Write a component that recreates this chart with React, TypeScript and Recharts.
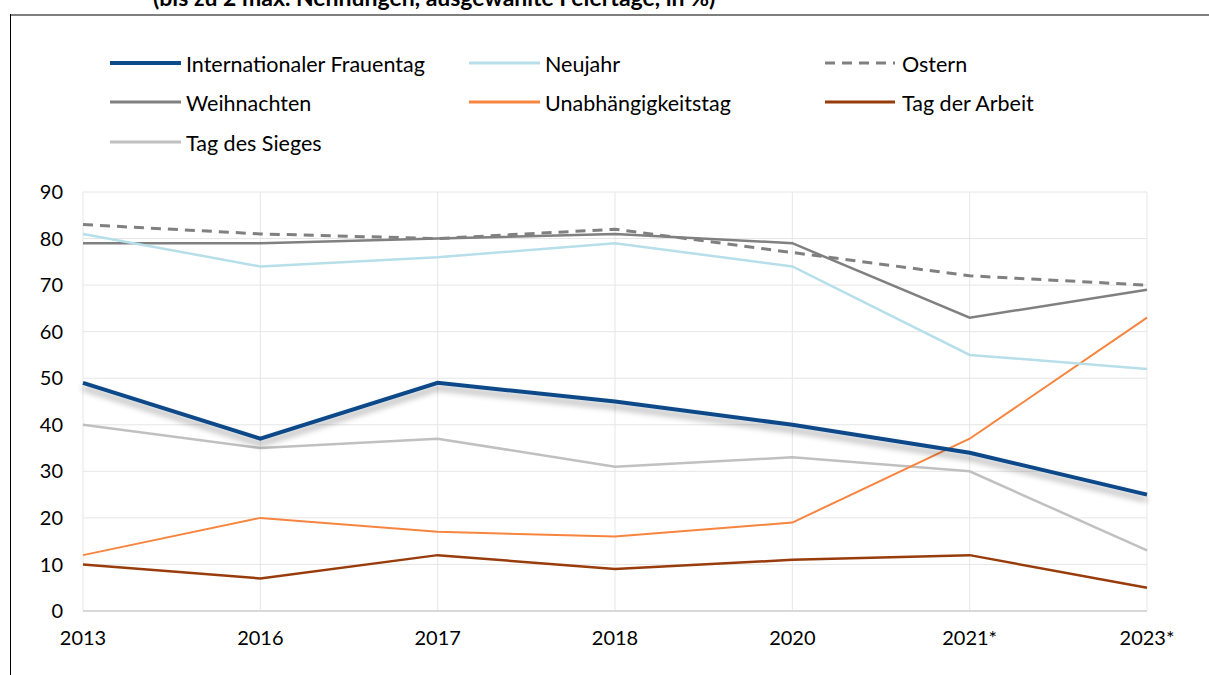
import React from "react";
import { LineChart, Line, XAxis, YAxis, CartesianGrid } from "recharts";

const categories = ["2013", "2016", "2017", "2018", "2020", "2021*", "2023*"];
const frauentag = [49, 37, 49, 45, 40, 34, 25];
const neujahr = [81, 74, 76, 79, 74, 55, 52];
const ostern = [83, 81, 80, 82, 77, 72, 70];
const weihnachten = [79, 79, 80, 81, 79, 63, 69];
const unabhaengigkeitstag = [12, 20, 17, 16, 19, 37, 63];
const tagDerArbeit = [10, 7, 12, 9, 11, 12, 5];
const tagDesSieges = [40, 35, 37, 31, 33, 30, 13];
const yTicks = [0, 10, 20, 30, 40, 50, 60, 70, 80, 90];

const data = categories.map((c, i) => ({
  year: c,
  frauentag: frauentag[i],
  neujahr: neujahr[i],
  ostern: ostern[i],
  weihnachten: weihnachten[i],
  unabh: unabhaengigkeitstag[i],
  arbeit: tagDerArbeit[i],
  sieges: tagDesSieges[i],
}));

const series = [
  { key: "frauentag", name: "Internationaler Frauentag", color: "#0c4a89", width: 4, dash: undefined as string | undefined, shadow: true },
  { key: "neujahr", name: "Neujahr", color: "#b7dfea", width: 2.5, dash: undefined, shadow: false },
  { key: "ostern", name: "Ostern", color: "#808080", width: 3, dash: "10 7", shadow: false },
  { key: "weihnachten", name: "Weihnachten", color: "#808080", width: 2.5, dash: undefined, shadow: false },
  { key: "unabh", name: "Unabhängigkeitstag", color: "#f7853f", width: 2, dash: undefined, shadow: false },
  { key: "arbeit", name: "Tag der Arbeit", color: "#993c0c", width: 2.5, dash: undefined, shadow: false },
  { key: "sieges", name: "Tag des Sieges", color: "#c0c0c0", width: 2.5, dash: undefined, shadow: false },
];

const legendCols = [110, 469, 825];
const legendLens = [71, 71, 70];
const legendGaps = [5, 5, 7];
const legendRows = [63, 102, 142];

const LegendBlock = () => (
  <svg width={1209} height={175} style={{ position: "absolute", left: 0, top: 0 }}>
    {series.map((s, i) => {
      const col = i % 3;
      const row = Math.floor(i / 3);
      const x = legendCols[col];
      const y = legendRows[row];
      const len = legendLens[col];
      return (
        <g key={s.key}>
          <line x1={x} x2={x + len} y1={y} y2={y} stroke={s.color} strokeWidth={col === 0 && row === 0 ? 4 : 3} strokeDasharray={s.dash ? "10 7" : undefined} />
          <text x={x + len + legendGaps[col]} y={y + 1} dominantBaseline="central" fontSize={21.5} fill="#000" fontFamily="Lato">
            {s.name}
          </text>
        </g>
      );
    })}
  </svg>
);

export default function App() {
  return (
    <div style={{ position: "absolute", left: 0, top: 0, width: 1209, height: 675, background: "#fff", overflow: "hidden", fontFamily: "Lato" }}>
      <div style={{ position: "absolute", left: 153, top: -17, fontSize: 23, fontWeight: 700, whiteSpace: "nowrap", color: "#000" }}>
        (bis zu 2 max. Nennungen, ausgewählte Feiertage, in %)
      </div>
      <div style={{ position: "absolute", left: 10, top: 14, width: 1199, height: 2, background: "#7f7f7f" }} />
      <div style={{ position: "absolute", left: 10, top: 14, width: 1, height: 661, background: "#000" }} />
      <div style={{ position: "absolute", left: 0, top: 0 }}>
        <LineChart width={1209} height={675} data={data} margin={{ top: 192, right: 62, bottom: 34, left: 13 }}>
          <defs>
            <filter id="lineShadow" x="-10%" y="-50%" width="120%" height="200%">
              <feGaussianBlur in="SourceAlpha" stdDeviation="3" />
              <feOffset dx="0" dy="5" result="ob" />
              <feComponentTransfer>
                <feFuncA type="linear" slope="0.35" />
              </feComponentTransfer>
              <feMerge>
                <feMergeNode />
                <feMergeNode in="SourceGraphic" />
              </feMerge>
            </filter>
          </defs>
          <CartesianGrid stroke="#e6e6e6" strokeWidth={1} vertical={true} horizontal={true} />
          <XAxis
            dataKey="year"
            tickLine={false}
            axisLine={{ stroke: "#d9d9d9", strokeWidth: 2 }}
            tick={{ fill: "#000", fontSize: 20, fontFamily: "Lato" }}
            tickMargin={14}
            interval={0}
          />
          <YAxis
            domain={[0, 90]}
            ticks={yTicks}
            width={70}
            tickLine={false}
            axisLine={false}
            tick={{ fill: "#000", fontSize: 20, fontFamily: "Lato" }}
            tickMargin={14}
            interval={0}
          />
          {[...series].reverse().map((s) => (
            <Line
              key={s.key}
              type="linear"
              dataKey={s.key}
              name={s.name}
              stroke={s.color}
              strokeWidth={s.width}
              strokeDasharray={s.dash}
              dot={false}
              activeDot={false}
              isAnimationActive={false}
              filter={s.shadow ? "url(#lineShadow)" : undefined}
            />
          ))}
        </LineChart>
      </div>
      <LegendBlock />
    </div>
  );
}
